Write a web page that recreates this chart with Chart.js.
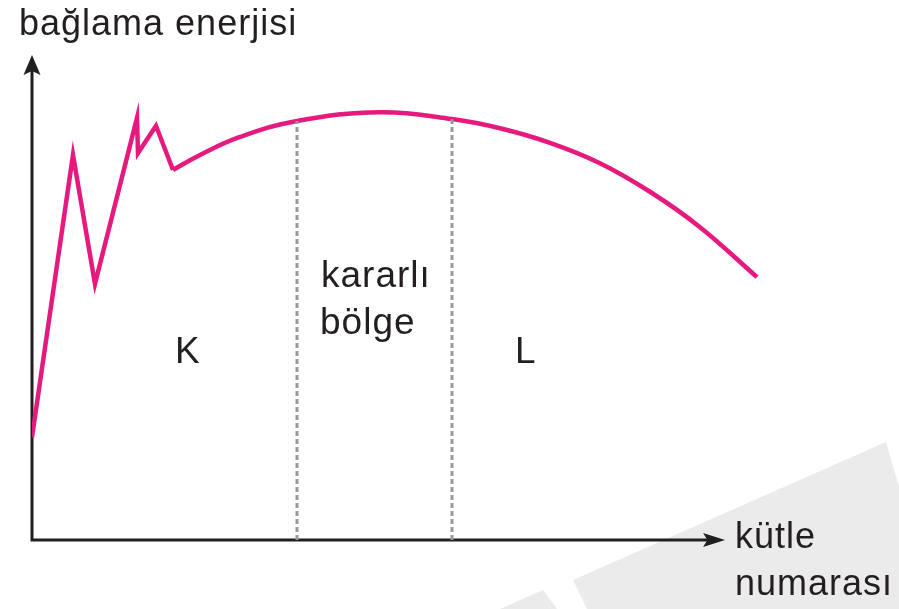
<!DOCTYPE html>
<html>
<head>
<meta charset="utf-8">
<title>Bağlama enerjisi</title>
<script src="https://cdn.jsdelivr.net/npm/chart.js@4.4.0/dist/chart.umd.min.js"></script>
<style>
  html, body { margin: 0; padding: 0; background: #fff; }
  #wrap { width: 899px; height: 609px; }
</style>
</head>
<body>
<div id="wrap"><canvas id="chart" width="899" height="609"></canvas></div>
<script>
// kütle numarası (arbitrary 0-100) vs bağlama enerjisi (arbitrary 0-100)
var massLight = [0, 5.63, 8.65, 14.42, 14.56, 17.03, 19.37];
var energyLight = [21.2, 79.4, 52.8, 87.0, 79.8, 85.4, 76.3];

var massCurve = [19.37, 23.08, 28.57, 36.40, 47.80, 57.69, 64.29, 71.15, 78.02, 84.89, 91.76, 99.59];
var energyCurve = [76.3, 79.4, 83.1, 86.4, 88.2, 86.8, 84.9, 81.9, 77.7, 71.8, 64.5, 54.2];

// borders of the stable region (kararlı bölge)
var stableMass = [36.40, 57.69];
var stableEnergy = [86.4, 86.8];

var xMax = 100, yMax = 100, xAxisEnd = 95.2;

function pts(xs, ys) {
    return xs.map(function (x, i) { return { x: x, y: ys[i] }; });
}

var INK = '#231f20';
var PINK = '#e6197f';

var datasets = [
    {
        data: pts(massLight, energyLight),
        borderColor: PINK, borderWidth: 4.5, tension: 0,
        pointRadius: 0, borderJoinStyle: 'miter', borderCapStyle: 'butt'
    },
    {
        data: pts(massCurve, energyCurve),
        borderColor: PINK, borderWidth: 4.5, tension: 0.4,
        pointRadius: 0, borderCapStyle: 'butt'
    }
];
stableMass.forEach(function (m, i) {
    datasets.unshift({
        data: [{ x: m, y: 0 }, { x: m, y: stableEnergy[i] }],
        borderColor: '#9a9a9a', borderWidth: 3, borderDash: [5, 3],
        pointRadius: 0, tension: 0
    });
});

function arrow(ctx, tx, ty, dx, dy, len, half) {
    // dx,dy: unit direction of the arrow
    var bx = tx - dx * len, by = ty - dy * len;
    var nx = -dy, ny = dx;
    ctx.beginPath();
    ctx.moveTo(tx, ty);
    ctx.lineTo(bx + nx * half, by + ny * half);
    ctx.lineTo(tx - dx * len * 0.8, ty - dy * len * 0.8);
    ctx.lineTo(bx - nx * half, by - ny * half);
    ctx.closePath();
    ctx.fill();
}

var decor = {
    id: 'decor',
    beforeDraw: function (chart) {
        var ctx = chart.ctx;
        ctx.save();
        ctx.fillStyle = '#ebebeb';
        ctx.beginPath();
        ctx.moveTo(573, 580); ctx.lineTo(886, 442); ctx.lineTo(899, 487);
        ctx.lineTo(899, 609); ctx.lineTo(587, 609); ctx.closePath();
        ctx.fill();
        ctx.beginPath();
        ctx.moveTo(500, 609); ctx.lineTo(543, 590); ctx.lineTo(557, 609);
        ctx.closePath();
        ctx.fill();
        ctx.restore();
    },
    beforeDatasetsDraw: function (chart) {
        var ctx = chart.ctx, a = chart.chartArea;
        var x0 = a.left, y0 = a.bottom;
        var xe = chart.scales.x.getPixelForValue(xAxisEnd);
        ctx.save();
        ctx.strokeStyle = INK; ctx.fillStyle = INK; ctx.lineWidth = 3;
        ctx.beginPath();
        ctx.moveTo(x0, a.top + 10); ctx.lineTo(x0, y0); ctx.lineTo(xe - 10, y0);
        ctx.stroke();
        arrow(ctx, x0, a.top, 0, -1, 20, 8.5);
        arrow(ctx, xe, y0, 1, 0, 22, 7);
        ctx.restore();
    },
    afterDraw: function (chart) {
        var ctx = chart.ctx;
        ctx.save();
        ctx.fillStyle = INK;
        ctx.font = '36px "Liberation Sans", Arial, sans-serif';
        ctx.letterSpacing = '1px';
        ctx.textBaseline = 'alphabetic';
        ctx.fillText('bağlama enerjisi', 19, 35);
        ctx.fillText('kütle', 735, 548);
        ctx.fillText('numarası', 735, 595);
        ctx.font = '37px "Liberation Sans", Arial, sans-serif';
        ctx.fillText('K', 175, 363);
        ctx.fillText('kararlı', 321, 287);
        ctx.fillText('bölge', 320, 334);
        ctx.fillText('L', 515, 363);
        ctx.restore();
    }
};

var ctx = document.getElementById('chart').getContext('2d');
var chart = new Chart(ctx, {
    type: 'scatter',
    data: { datasets: datasets },
    options: {
        responsive: false,
        animation: false,
        showLine: true,
        layout: { padding: { left: 32, right: 139, top: 55, bottom: 69 } },
        plugins: { legend: { display: false }, tooltip: { enabled: false } },
        scales: {
            x: { type: 'linear', min: 0, max: xMax, display: false },
            y: { type: 'linear', min: 0, max: yMax, display: false }
        }
    },
    plugins: [decor]
});
</script>
</body>
</html>
